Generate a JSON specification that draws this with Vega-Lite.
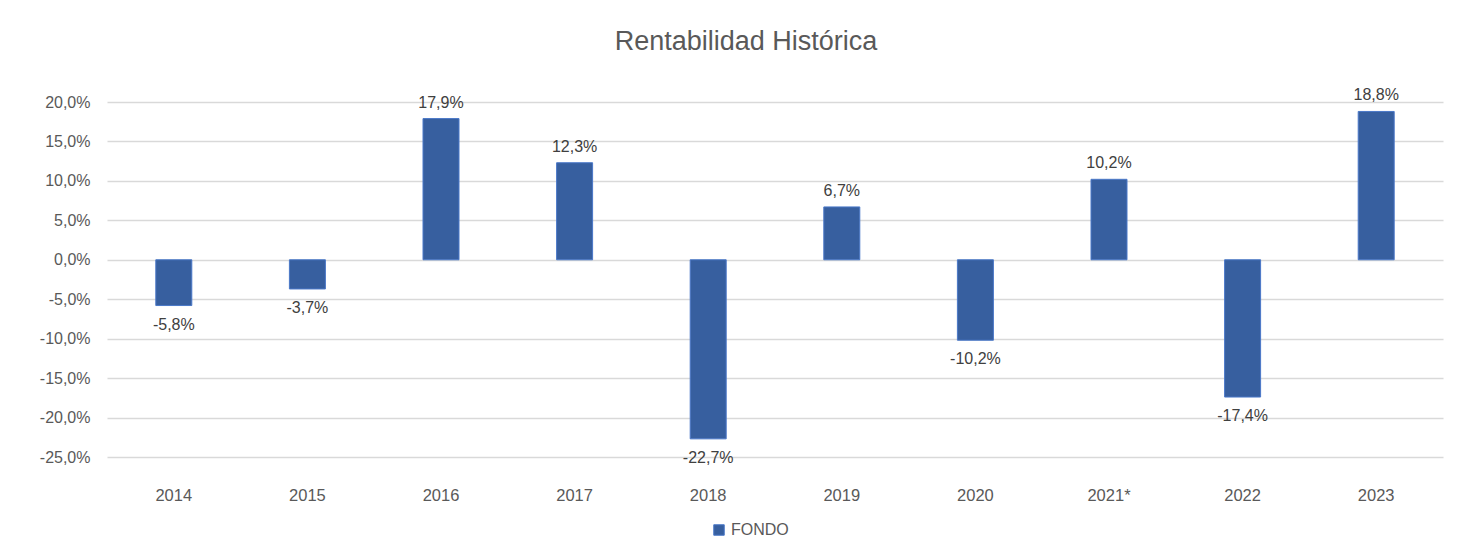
{
  "$schema": "https://vega.github.io/schema/vega-lite/v6.json",
  "autosize": {"type": "none"},
  "width": 1336,
  "height": 355,
  "padding": {"left": 107, "top": 102, "right": 31, "bottom": 98},
  "background": "white",
  "config": {
    "locale": {"number": {"decimal": ",", "thousands": ".", "grouping": [3], "currency": ["", " €"], "minus": "-"}},
    "view": {"stroke": null},
    "font": "Liberation Sans"
  },
  "title": {
    "text": "Rentabilidad Histórica",
    "anchor": "middle",
    "frame": "group",
    "dx": -29,
    "offset": 31,
    "fontSize": 27,
    "font": "Liberation Sans",
    "fontWeight": "normal",
    "color": "#595959"
  },
  "data": {
    "values": [
      {"year": "2014", "value": -0.058, "series": "FONDO"},
      {"year": "2015", "value": -0.037, "series": "FONDO"},
      {"year": "2016", "value": 0.179, "series": "FONDO"},
      {"year": "2017", "value": 0.123, "series": "FONDO"},
      {"year": "2018", "value": -0.227, "series": "FONDO"},
      {"year": "2019", "value": 0.067, "series": "FONDO"},
      {"year": "2020", "value": -0.102, "series": "FONDO"},
      {"year": "2021*", "value": 0.102, "series": "FONDO"},
      {"year": "2022", "value": -0.174, "series": "FONDO"},
      {"year": "2023", "value": 0.188, "series": "FONDO"}
    ]
  },
  "encoding": {
    "x": {
      "field": "year",
      "type": "nominal",
      "sort": null,
      "scale": {"paddingInner": 0, "paddingOuter": 0},
      "axis": {
        "title": null,
        "labelAngle": 0,
        "domain": false,
        "ticks": false,
        "labelPadding": 30,
        "labelFontSize": 16.5,
        "labelColor": "#595959",
        "labelFont": "Liberation Sans"
      }
    },
    "y": {
      "field": "value",
      "type": "quantitative",
      "scale": {"domain": [-0.25, 0.2], "nice": false, "zero": false},
      "axis": {
        "title": null,
        "format": ".1%",
        "values": [-0.25, -0.2, -0.15, -0.1, -0.05, 0, 0.05, 0.1, 0.15, 0.2],
        "domain": false,
        "ticks": false,
        "labelPadding": 17,
        "labelFontSize": 16,
        "labelColor": "#595959",
        "labelFont": "Liberation Sans",
        "gridColor": "#d9d9d9",
        "gridWidth": 1.3
      }
    }
  },
  "layer": [
    {
      "mark": {"type": "bar", "size": 36, "stroke": "#4a78c8", "strokeWidth": 1},
      "encoding": {
        "color": {
          "field": "series",
          "type": "nominal",
          "scale": {"range": ["#375f9f"]},
          "legend": {
            "title": null,
            "orient": "none",
            "legendX": 604,
            "legendY": 420,
            "symbolType": "square",
            "symbolSize": 110,
            "symbolStrokeColor": "#4a78c8",
            "symbolStrokeWidth": 1,
            "labelFontSize": 16,
            "labelColor": "#595959",
            "labelFont": "Liberation Sans"
          }
        }
      }
    },
    {
      "transform": [{"filter": "datum.value >= 0"}],
      "mark": {"type": "text", "baseline": "bottom", "dy": -8, "fontSize": 16, "color": "#404040"},
      "encoding": {"text": {"field": "value", "type": "quantitative", "format": ".1%"}}
    },
    {
      "transform": [{"filter": "datum.value < 0"}],
      "mark": {"type": "text", "baseline": "top", "dy": 11, "fontSize": 16, "color": "#404040"},
      "encoding": {"text": {"field": "value", "type": "quantitative", "format": ".1%"}}
    }
  ]
}
